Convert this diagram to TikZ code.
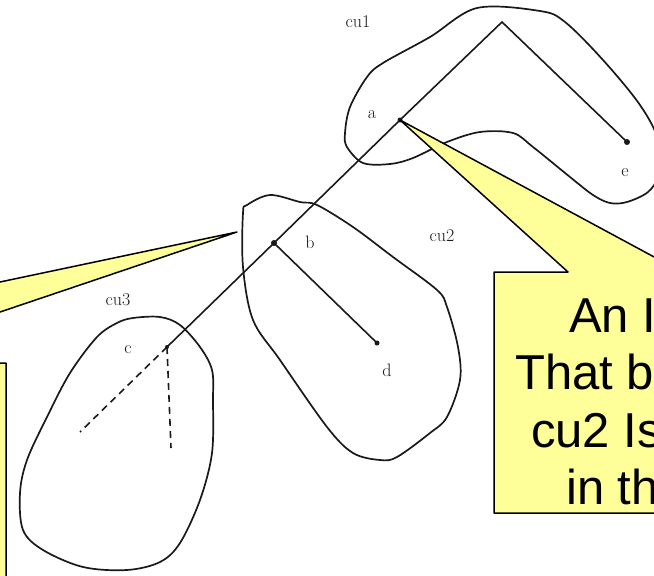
\documentclass[tikz,border=0pt]{standalone}
\usepackage{fontspec}
\newfontfamily\calloutfont{Liberation Sans}
\definecolor{calloutyellow}{RGB}{255,255,153}
\definecolor{ink}{RGB}{25,25,25}
\begin{document}
\begin{tikzpicture}[x=1pt,y=-1pt,
  blob/.style={draw=ink, line width=1.7pt, line join=round},
  tree/.style={draw=ink, line width=1.6pt},
  dot/.style={circle, fill=ink, inner sep=0pt, minimum size=#1},
  lbl/.style={font=\fontsize{18}{20}\selectfont, inner sep=0pt, text=ink},
  callout/.style={fill=calloutyellow, draw=black, line width=1.5pt, line join=round},
  ctext/.style={font=\calloutfont\fontsize{49}{57}\selectfont, anchor=base west, inner sep=0pt}]
\useasboundingbox (0,0) rectangle (654,576);
\clip (0,0) rectangle (654,576);

% cluster outlines
\draw[blob] plot[smooth cycle, tension=0.55] coordinates {
  (477,8) (540,11) (565,22) (603,60) (640,105) (658,140) (658,175) (648,192)
  (627,202) (610,203) (593,195) (570,177) (533,147) (513,133) (480,132)
  (447,142) (413,158) (390,164) (363,163) (347,147) (345,133) (350,107)
  (367,77) (383,63) (430,37)};
\draw[blob] plot[smooth cycle, tension=0.55] coordinates {
  (247,205) (270,195) (300,202) (317,205) (353,227) (393,257) (437,290)
  (447,307) (458,347) (460,380) (447,417) (430,433) (397,457) (380,460)
  (353,453) (327,427) (280,360) (253,320) (243,267) (243,213)};
\draw[blob] plot[smooth cycle, tension=0.55] coordinates {
  (133,318) (160,317) (180,325) (200,347) (212,370) (213,400) (212,453)
  (200,500) (180,543) (160,562) (127,570) (83,567) (43,550) (23,530)
  (20,493) (27,460) (47,417) (70,373) (97,337) (117,323)};

% labels
\node[lbl] (lcu1) at (358,22) {cu1};
\node[lbl] (lcu2) at (442,236) {cu2};
\node[lbl] (lcu3) at (118,300) {cu3};
\node[lbl] (la) at (372,115) {a};
\node[lbl] (lb) at (310,242) {b};
\node[lbl] (lc) at (128,350) {c};
\node[lbl] (ld) at (387,370) {d};
\node[lbl] (le) at (625,173) {e};

% tree
\node[dot=5pt] (a) at (400,120) {};
\coordinate (apex) at (502,22);
\node[dot=6pt] (e) at (627,142) {};
\node[dot=6pt] (b) at (274,243) {};
\node[dot=4pt] (c) at (167,347) {};
\node[dot=5pt] (d) at (377,343) {};
\coordinate (c1) at (80,432);
\coordinate (c2) at (171,448);
\draw[tree] (c.center) -- (b.center) -- (a.center) -- (apex) -- (e.center);
\draw[tree] (b.center) -- (d.center);
\draw[tree, dash pattern=on 7pt off 5pt] (c.center) -- (c1);
\draw[tree, dash pattern=on 7pt off 5pt] (c.center) -- (c2);

% callouts
\coordinate (ltip) at (237,232);
\filldraw[callout] (6,363) -- (-151,363) -- (ltip) -- (-384,363) -- (-500,363)
  -- (-500,700) -- (6,700) -- cycle;
\filldraw[callout] (494,272) -- (568,272) -- (a.center) -- (682,272) -- (760,272)
  -- (760,513) -- (494,513) -- cycle;

\node[ctext] (t1) at (569,332) {An I};
\node[ctext] (t2) at (515,389) {That b};
\node[ctext] (t3) at (531,447) {cu2 Is};
\node[ctext] (t4) at (566,504) {in th};
\end{tikzpicture}
\end{document}
